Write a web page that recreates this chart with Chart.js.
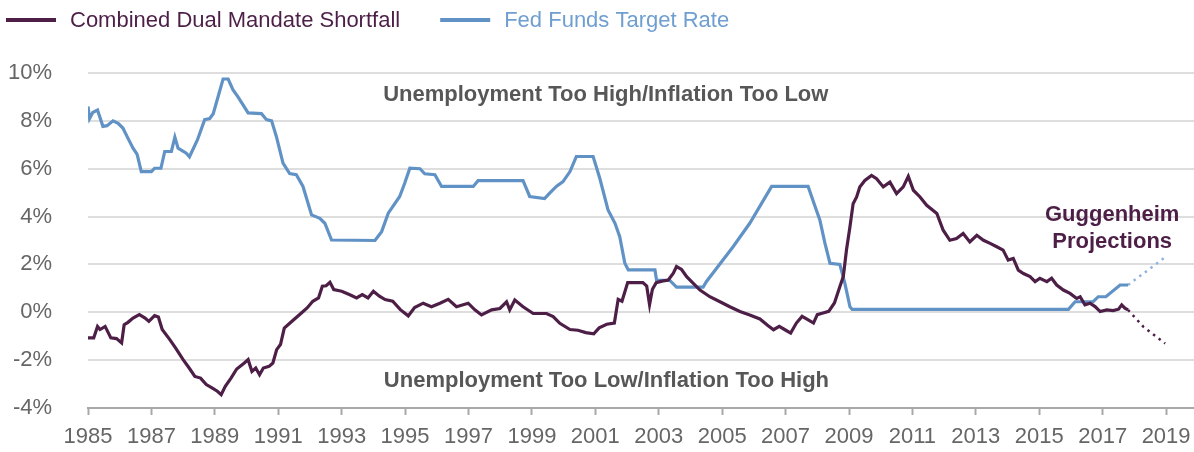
<!DOCTYPE html>
<html>
<head>
<meta charset="utf-8">
<script src="https://cdn.jsdelivr.net/npm/chart.js@4.4.0/dist/chart.umd.min.js"></script>
<style>
  html, body { margin: 0; padding: 0; background: #fff; }
  #wrap { width: 1194px; height: 452px; }
</style>
</head>
<body>
<div id="wrap"><canvas id="chart" width="1194" height="452"></canvas></div>
<script>
// tick labels
const yearTicks = [1985, 1987, 1989, 1991, 1993, 1995, 1997, 1999, 2001, 2003, 2005, 2007, 2009, 2011, 2013, 2015, 2017, 2019];
const percentTicks = [-4, -2, 0, 2, 4, 6, 8, 10];

// Fed Funds Target Rate (%)
const fedYears = [1985.0, 1985.05, 1985.15, 1985.3, 1985.47, 1985.6, 1985.79, 1985.95, 1986.1, 1986.25, 1986.42, 1986.55, 1986.68, 1987.0, 1987.1, 1987.3, 1987.42, 1987.63, 1987.74, 1987.84, 1988.1, 1988.2, 1988.45, 1988.68, 1988.84, 1988.95, 1989.26, 1989.42, 1989.57, 1989.73, 1990.05, 1990.47, 1990.63, 1990.79, 1990.94, 1991.15, 1991.36, 1991.57, 1991.78, 1992.05, 1992.31, 1992.47, 1992.68, 1994.05, 1994.26, 1994.47, 1994.83, 1994.99, 1995.15, 1995.47, 1995.62, 1995.94, 1996.15, 1997.15, 1997.3, 1998.72, 1998.93, 1999.4, 1999.56, 1999.77, 1999.98, 2000.2, 2000.4, 2000.93, 2001.14, 2001.4, 2001.62, 2001.77, 2001.93, 2002.04, 2002.88, 2002.93, 2003.35, 2003.56, 2004.4, 2004.5, 2005.35, 2005.87, 2006.56, 2007.71, 2007.93, 2008.08, 2008.24, 2008.4, 2008.71, 2008.87, 2009.03, 2009.1, 2015.92, 2016.13, 2016.7, 2016.86, 2017.1, 2017.55, 2017.8];
const fedRates = [8.6, 8.1, 8.35, 8.45, 7.77, 7.8, 8.0, 7.9, 7.7, 7.3, 6.86, 6.6, 5.88, 5.88, 6.02, 6.02, 6.72, 6.72, 7.32, 6.86, 6.65, 6.5, 7.2, 8.05, 8.1, 8.3, 9.75, 9.75, 9.3, 9.0, 8.33, 8.3, 8.05, 8.0, 7.35, 6.23, 5.8, 5.75, 5.26, 4.07, 3.93, 3.72, 3.02, 3.0, 3.37, 4.14, 4.84, 5.4, 6.02, 6.0, 5.79, 5.75, 5.26, 5.26, 5.5, 5.5, 4.84, 4.75, 4.98, 5.26, 5.46, 5.88, 6.51, 6.51, 5.6, 4.28, 3.72, 3.16, 2.05, 1.77, 1.77, 1.35, 1.33, 1.05, 1.05, 1.28, 2.75, 3.72, 5.26, 5.26, 4.42, 3.86, 2.89, 2.05, 2.0, 1.21, 0.23, 0.12, 0.12, 0.44, 0.44, 0.65, 0.65, 1.14, 1.14];

// Fed Funds projection (dotted)
const fedProjYears = [2017.8, 2019.0];
const fedProjRates = [1.14, 2.33];

// Combined Dual Mandate Shortfall (%)
const dualYears = [1985.0, 1985.18, 1985.3, 1985.38, 1985.54, 1985.72, 1985.9, 1986.06, 1986.14, 1986.26, 1986.42, 1986.62, 1986.8, 1986.92, 1987.1, 1987.22, 1987.34, 1987.58, 1987.76, 1988.0, 1988.19, 1988.37, 1988.55, 1988.73, 1988.91, 1989.08, 1989.2, 1989.33, 1989.51, 1989.69, 1989.93, 1990.05, 1990.17, 1990.29, 1990.41, 1990.53, 1990.71, 1990.83, 1990.95, 1991.07, 1991.19, 1991.37, 1991.55, 1991.73, 1991.91, 1992.09, 1992.27, 1992.39, 1992.51, 1992.63, 1992.75, 1993.0, 1993.24, 1993.47, 1993.65, 1993.83, 1994.0, 1994.19, 1994.37, 1994.61, 1994.85, 1995.1, 1995.3, 1995.57, 1995.83, 1996.1, 1996.36, 1996.62, 1996.99, 1997.2, 1997.41, 1997.73, 1997.99, 1998.2, 1998.3, 1998.46, 1998.72, 1999.04, 1999.46, 1999.67, 1999.88, 2000.2, 2000.45, 2000.7, 2000.95, 2001.12, 2001.36, 2001.6, 2001.72, 2001.84, 2002.02, 2002.32, 2002.5, 2002.62, 2002.71, 2002.8, 2002.92, 2003.1, 2003.3, 2003.46, 2003.56, 2003.72, 2003.88, 2004.09, 2004.3, 2004.61, 2004.93, 2005.24, 2005.56, 2005.87, 2006.19, 2006.44, 2006.62, 2006.8, 2006.98, 2007.16, 2007.34, 2007.52, 2007.7, 2007.88, 2008.0, 2008.18, 2008.36, 2008.54, 2008.71, 2008.82, 2008.92, 2009.03, 2009.13, 2009.24, 2009.34, 2009.5, 2009.71, 2009.87, 2010.08, 2010.29, 2010.5, 2010.71, 2010.87, 2011.03, 2011.24, 2011.45, 2011.77, 2011.97, 2012.18, 2012.39, 2012.6, 2012.81, 2013.03, 2013.24, 2013.45, 2013.66, 2013.86, 2014.02, 2014.18, 2014.34, 2014.5, 2014.71, 2014.87, 2015.02, 2015.24, 2015.39, 2015.55, 2015.76, 2015.97, 2016.18, 2016.29, 2016.44, 2016.6, 2016.76, 2016.92, 2017.13, 2017.33, 2017.5, 2017.6, 2017.7, 2017.8];
const dualShortfall = [-1.07, -1.07, -0.59, -0.72, -0.59, -1.07, -1.1, -1.28, -0.52, -0.42, -0.24, -0.1, -0.24, -0.38, -0.14, -0.2, -0.72, -1.14, -1.49, -1.98, -2.33, -2.68, -2.75, -3.02, -3.16, -3.3, -3.44, -3.09, -2.75, -2.37, -2.12, -1.98, -2.47, -2.33, -2.61, -2.33, -2.26, -2.12, -1.56, -1.35, -0.66, -0.45, -0.24, -0.03, 0.18, 0.46, 0.6, 1.09, 1.11, 1.25, 0.95, 0.88, 0.74, 0.6, 0.74, 0.6, 0.88, 0.67, 0.53, 0.46, 0.11, -0.15, 0.2, 0.38, 0.23, 0.38, 0.54, 0.23, 0.38, 0.1, -0.11, 0.1, 0.16, 0.44, 0.1, 0.51, 0.23, -0.05, -0.05, -0.18, -0.46, -0.72, -0.75, -0.85, -0.9, -0.65, -0.5, -0.45, 0.54, 0.46, 1.24, 1.24, 1.24, 1.1, 0.32, 0.96, 1.24, 1.3, 1.35, 1.63, 1.91, 1.79, 1.49, 1.21, 0.93, 0.65, 0.44, 0.23, 0.03, -0.11, -0.28, -0.55, -0.73, -0.59, -0.73, -0.87, -0.45, -0.17, -0.31, -0.45, -0.1, -0.03, 0.04, 0.39, 1.07, 1.49, 2.6, 3.57, 4.54, 4.82, 5.24, 5.51, 5.72, 5.58, 5.24, 5.44, 4.96, 5.24, 5.68, 5.1, 4.82, 4.47, 4.13, 3.43, 3.01, 3.08, 3.29, 2.94, 3.22, 3.01, 2.88, 2.74, 2.6, 2.18, 2.25, 1.76, 1.62, 1.49, 1.28, 1.42, 1.28, 1.42, 1.14, 0.93, 0.79, 0.58, 0.65, 0.31, 0.38, 0.24, 0.03, 0.1, 0.07, 0.13, 0.31, 0.17, 0.1];

// Shortfall projection (dotted)
const dualProjYears = [2017.8, 2018.28, 2018.97];
const dualProjValues = [0.1, -0.6, -1.3];

const PURPLE = '#4d1f47';
const BLUE = '#6192c5';
const BLUE_LIGHT = '#8fb5db';
const FONT = '"Liberation Sans", Arial, sans-serif';

const pts = (xs, ys) => xs.map((x, i) => ({ x: x, y: ys[i] }));

// drop the automatic label-overflow padding so the plot area keeps its fixed box
const noPad = s => { s.paddingLeft = 0; s.paddingRight = 0; s.paddingTop = 0; s.paddingBottom = 0; };

// legend + annotations drawn on top of the chart
const overlay = {
  id: 'overlay',
  afterDraw(chart) {
    const ctx = chart.ctx;
    const xs = chart.scales.x, ys = chart.scales.y;
    ctx.save();

    // legend
    ctx.font = '22px ' + FONT;
    ctx.textBaseline = 'middle';
    ctx.textAlign = 'left';
    const items = [
      { label: 'Combined Dual Mandate Shortfall', color: PURPLE, text: PURPLE },
      { label: 'Fed Funds Target Rate', color: BLUE, text: '#6f9fd0' }
    ];
    let x = 6;
    const ly = 20;
    items.forEach(it => {
      ctx.strokeStyle = it.color;
      ctx.lineWidth = 4;
      ctx.beginPath();
      ctx.moveTo(x, ly);
      ctx.lineTo(x + 50, ly);
      ctx.stroke();
      ctx.fillStyle = it.text;
      ctx.fillText(it.label, x + 64, ly + 1);
      x += 64 + ctx.measureText(it.label).width + 40;
    });

    // region labels
    ctx.textAlign = 'center';
    ctx.font = 'bold 22px ' + FONT;
    ctx.fillStyle = '#575757';
    ctx.fillText('Unemployment Too High/Inflation Too Low', xs.getPixelForValue(2001.33), ys.getPixelForValue(9.1), 457);
    ctx.fillText('Unemployment Too Low/Inflation Too High', xs.getPixelForValue(2001.35), ys.getPixelForValue(-2.87), 457);

    ctx.fillStyle = PURPLE;
    ctx.fillText('Guggenheim', xs.getPixelForValue(2017.3), ys.getPixelForValue(4.05));
    ctx.fillText('Projections', xs.getPixelForValue(2017.3), ys.getPixelForValue(2.95));
    ctx.restore();
  }
};

new Chart(document.getElementById('chart'), {
  type: 'line',
  data: {
    datasets: [
      {
        label: 'Combined Dual Mandate Shortfall',
        data: pts(dualYears, dualShortfall),
        borderColor: PURPLE,
        borderWidth: 3.2,
        pointRadius: 0,
        tension: 0
      },
      {
        label: 'Shortfall projection',
        data: pts(dualProjYears, dualProjValues),
        borderColor: PURPLE,
        borderWidth: 2.5,
        borderDash: [2.5, 4.5],
        pointRadius: 0,
        tension: 0
      },
      {
        label: 'Fed Funds Target Rate',
        data: pts(fedYears, fedRates),
        borderColor: BLUE,
        borderWidth: 3.2,
        pointRadius: 0,
        tension: 0
      },
      {
        label: 'Fed Funds projection',
        data: pts(fedProjYears, fedProjRates),
        borderColor: BLUE_LIGHT,
        borderWidth: 2.5,
        borderDash: [2.5, 4.5],
        pointRadius: 0,
        tension: 0
      }
    ]
  },
  options: {
    responsive: false,
    animation: false,
    layout: { padding: { top: 73, left: 0, right: 0, bottom: 0 } },
    plugins: {
      legend: { display: false },
      tooltip: { enabled: false }
    },
    scales: {
      x: {
        type: 'linear',
        min: 1985,
        max: 2019.88,
        afterBuildTicks: s => { s.ticks = yearTicks.map(v => ({ value: v })); },
        afterFit: s => { s.height = 44; noPad(s); },
        ticks: {
          autoSkip: false,
          maxRotation: 0,
          padding: 9,
          color: '#666',
          font: { family: FONT, size: 22 },
          callback: v => String(v)
        },
        grid: {
          drawOnChartArea: false,
          drawTicks: true,
          tickLength: 7,
          tickWidth: 2,
          tickColor: '#a8a8a8'
        },
        border: { display: true, color: '#a8a8a8', width: 2 }
      },
      y: {
        min: -4,
        max: 10,
        afterBuildTicks: s => { s.ticks = percentTicks.map(v => ({ value: v })); },
        afterFit: s => { s.width = 88; noPad(s); },
        ticks: {
          padding: 36,
          color: '#666',
          font: { family: FONT, size: 22 },
          callback: v => v + '%'
        },
        grid: {
          drawTicks: false,
          lineWidth: 2,
          color: ctx => ctx.tick && ctx.tick.value === -4 ? 'rgba(0,0,0,0)' : '#dedede'
        },
        border: { display: false }
      }
    }
  },
  plugins: [overlay]
});
</script>
</body>
</html>
